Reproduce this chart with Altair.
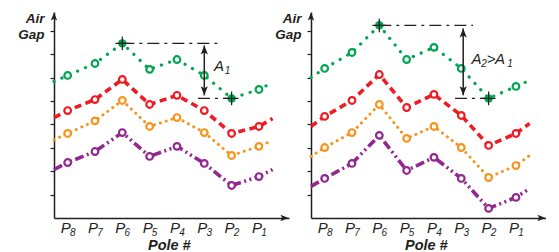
import altair as alt
import pandas as pd

# ---------------- data ----------------
pole_labels = ["8", "7", "6", "5", "4", "3", "2", "1"]
pole_pos = [1, 2, 3, 4, 5, 6, 7, 8]
line_start_pos = 0.5
line_end_pos = 8.5

# left panel  (values at P8..P1, plus [value at axis, value at line end])
green_L = [6.09, 6.60, 7.46, 6.35, 6.77, 6.09, 5.11, 5.49]
green_L_ends = [5.83, 5.79]
red_L = [4.59, 5.06, 5.92, 4.85, 5.24, 4.59, 3.61, 3.91]
red_L_ends = [4.29, 4.25]
orange_L = [3.61, 4.15, 5.02, 3.91, 4.29, 3.65, 2.67, 3.06]
orange_L_ends = [3.35, 3.31]
purple_L = [2.37, 2.84, 3.65, 2.63, 3.06, 2.33, 1.39, 1.77]
purple_L_ends = [2.07, 2.07]

# right panel
green_R = [6.39, 7.07, 8.23, 6.77, 7.29, 6.39, 5.11, 5.62]
green_R_ends = [6.00, 5.88]
red_R = [4.34, 5.02, 6.13, 4.72, 5.28, 4.38, 3.10, 3.61]
red_R_ends = [3.91, 4.04]
orange_R = [3.01, 3.65, 4.85, 3.40, 3.91, 3.01, 1.73, 2.24]
orange_R_ends = [2.63, 2.67]
purple_R = [1.69, 2.33, 3.53, 2.03, 2.59, 1.69, 0.41, 0.88]
purple_R_ends = [1.35, 1.26]

# annotations: [top level, top x from, top x to, low level, low x from, low x to, arrow x, arrow top tip, arrow bottom tip]
annot_L = [7.46, 3.0, 6.5, 5.11, 5.77, 7.0, 6.0, 7.37, 5.24]
annot_R = [8.23, 3.0, 6.43, 5.11, 5.77, 7.0, 6.07, 8.10, 5.24]

# amplitude labels: (text, pos, value, dx, dy, size)
label_L = [("A", 6.54, 6.30, 0, 0, 15), ("1", 6.54, 6.30, 8.5, 3, 10)]
label_R = [("A", 6.56, 6.59, 0, 0, 15), ("2", 6.56, 6.59, 7.5, 3, 10),
           (">", 6.56, 6.59, 14.5, 0, 15), ("A", 6.56, 6.59, 23.5, 0, 15),
           ("1", 6.56, 6.59, 33.5, 3, 10)]

# ---------------- styling ----------------
INK = "#231f20"
FONT = "Liberation Sans"
styles = {
    "green": dict(color="#00a651", dash=[0.1, 8.5], cap="round", width=3.2),
    "red": dict(color="#ed1c24", dash=[7, 4.5], cap="butt", width=3.6),
    "orange": dict(color="#f7941d", dash=[0.1, 6], cap="round", width=3.0),
    "purple": dict(color="#92278f", dash=[9, 3.5, 2, 3.5, 2, 3.5], cap="butt", width=3.6),
}

W, H = 235, 206
xscale = alt.Scale(domain=[0.5, 9.1], nice=False, zero=False)
yscale = alt.Scale(domain=[0, 8.8], nice=False, zero=False)
xaxis = alt.Axis(title=None, labels=False, ticks=False, grid=False,
                 domainColor=INK, domainWidth=1.5)
yaxis = alt.Axis(title=None, labels=False, values=[1, 2, 3, 4, 5, 6, 7, 8],
                 tickSize=4, tickColor=INK, tickWidth=1.2, grid=False,
                 domainColor=INK, domainWidth=1.5)
X = alt.X("pos:Q", scale=xscale, axis=xaxis)
Y = alt.Y("val:Q", scale=yscale, axis=yaxis)

ARROW_UP = "M0,0L0.4,1L0,0.78L-0.4,1Z"
ARROW_DOWN = "M0,0L0.4,-1L0,-0.78L-0.4,-1Z"
ARROW_RIGHT = "M0,0L-1,-0.4L-0.78,0L-1,0.4Z"
CROSS = "M-1,0L1,0M0,-1L0,1"


def panel(series, annot, amp_label, with_anchor):
    rows = []
    for name, (vals, ends) in series.items():
        rows.append(dict(series=name, pos=line_start_pos, val=ends[0], kind="end"))
        for p, v in zip(pole_pos, vals):
            rows.append(dict(series=name, pos=p, val=v, kind="pt"))
        rows.append(dict(series=name, pos=line_end_pos, val=ends[1], kind="end"))
    df = pd.DataFrame(rows)
    base = alt.Chart(df)

    layers = []
    for name, st in styles.items():
        layers.append(
            base.transform_filter(alt.datum.series == name)
            .mark_line(color=st["color"], strokeDash=st["dash"], strokeCap=st["cap"],
                       strokeWidth=st["width"])
            .encode(x=X, y=Y, order="pos:Q")
        )

    # dash-dot reference lines
    top_v, tx0, tx1, low_v, lx0, lx1, ax, ay0, ay1 = annot
    ref = pd.DataFrame({"pos": [tx0, lx0], "pos2": [tx1, lx1], "val": [top_v, low_v]})
    layers.append(
        alt.Chart(ref).mark_rule(color=INK, strokeWidth=1.2, strokeDash=[12, 5, 3, 5])
        .encode(x=X, x2="pos2:Q", y=Y)
    )

    # open circle markers
    gP6, gP2 = series["green"][0][2], series["green"][0][6]
    for name, st in styles.items():
        cond = (alt.datum.series == name) & (alt.datum.kind == "pt")
        if name == "green":
            cond = cond & (alt.datum.pos != 3) & (alt.datum.pos != 7)
        layers.append(
            base.transform_filter(cond)
            .mark_point(shape="circle", size=44, filled=False, fill="white",
                        stroke=st["color"], strokeWidth=2.2, opacity=1)
            .encode(x=X, y=Y)
        )

    # highlighted extremes
    ext = pd.DataFrame({"pos": [3, 7], "val": [gP6, gP2]})
    layers.append(
        alt.Chart(ext).mark_point(shape="circle", size=72, filled=True,
                                  color=styles["green"]["color"], opacity=1)
        .encode(x=X, y=Y)
    )
    layers.append(
        alt.Chart(ext).mark_point(shape=CROSS, size=190, filled=False, stroke=INK,
                                  strokeWidth=1.2, opacity=1)
        .encode(x=X, y=Y)
    )

    # double arrow
    arr = pd.DataFrame({"pos": [ax], "val": [ay0], "val2": [ay1]})
    layers.append(
        alt.Chart(arr).mark_rule(color=INK, strokeWidth=1.5)
        .encode(x=X, y=Y, y2="val2:Q")
    )
    heads = pd.DataFrame({"pos": [ax], "val": [ay0]})
    layers.append(
        alt.Chart(heads).mark_point(shape=ARROW_UP, size=324, filled=True, color=INK, opacity=1)
        .encode(x=X, y=Y)
    )
    heads2 = pd.DataFrame({"pos": [ax], "val": [ay1]})
    layers.append(
        alt.Chart(heads2).mark_point(shape=ARROW_DOWN, size=324, filled=True, color=INK, opacity=1)
        .encode(x=X, y=Y)
    )

    # axis arrow heads
    yarrow = pd.DataFrame({"pos": [0.5], "val": [8.78]})
    layers.append(
        alt.Chart(yarrow).mark_point(shape=ARROW_UP, size=256, filled=True, color=INK, opacity=1)
        .encode(x=X, y=Y)
    )
    xarrow = pd.DataFrame({"pos": [9.08], "val": [0]})
    layers.append(
        alt.Chart(xarrow).mark_point(shape=ARROW_RIGHT, size=256, filled=True, color=INK, opacity=1)
        .encode(x=X, y=Y)
    )

    # amplitude label pieces
    for txt, p, v, dx, dy, fs in amp_label:
        layers.append(
            alt.Chart(pd.DataFrame({"pos": [p], "val": [v], "t": [txt]}))
            .mark_text(align="center", baseline="alphabetic", dx=dx, dy=dy, font=FONT,
                       fontStyle="italic", fontSize=fs, color=INK)
            .encode(x=X, y=Y, text="t:N")
        )

    # tick labels P_n
    tl = pd.DataFrame({"pos": pole_pos, "lab": pole_labels, "P": ["P"] * 8})
    layers.append(
        alt.Chart(tl).mark_text(align="center", baseline="alphabetic", dx=-2, font=FONT,
                                fontStyle="italic", fontSize=15, color=INK)
        .encode(x=X, y=alt.value(221.2), text="P:N")
    )
    layers.append(
        alt.Chart(tl).mark_text(align="center", baseline="alphabetic", dx=5, font=FONT,
                                fontStyle="italic", fontSize=10, color=INK)
        .encode(x=X, y=alt.value(224.1), text="lab:N")
    )

    # axis titles
    layers.append(
        alt.Chart(pd.DataFrame({"pos": [4.72], "t": ["Pole #"]}))
        .mark_text(align="center", baseline="alphabetic", font=FONT, fontStyle="italic",
                   fontWeight="bold", fontSize=14.5, color=INK)
        .encode(x=X, y=alt.value(237.8), text="t:N")
    )
    yt = pd.DataFrame({"t": ["Air", "Gap"], "yy": [11.4, 26.9]})
    layers.append(
        alt.Chart(yt).mark_text(align="right", baseline="alphabetic", font=FONT,
                                fontStyle="italic", fontWeight="bold", fontSize=13.5, color=INK)
        .encode(x=alt.value(-9.5), y=alt.Y("yy:Q", scale=None), text="t:N")
    )

    if with_anchor:
        layers.append(
            alt.Chart(pd.DataFrame({"a": [0]}))
            .mark_point(shape="square", size=1, filled=True, color="white", opacity=1)
            .encode(x=alt.value(-45.5), y=alt.value(-3.1))
        )

    return alt.layer(*layers).properties(width=W, height=H)


left = panel({"green": (green_L, green_L_ends), "red": (red_L, red_L_ends),
              "orange": (orange_L, orange_L_ends), "purple": (purple_L, purple_L_ends)},
             annot_L, label_L, True)
right = panel({"green": (green_R, green_R_ends), "red": (red_R, red_R_ends),
               "orange": (orange_R, orange_R_ends), "purple": (purple_R, purple_R_ends)},
              annot_R, label_R, False)

chart = (
    alt.hconcat(left, right, spacing=22, bounds="flush")
    .properties(padding=0, background="white")
    .configure_view(strokeWidth=0)
)

chart.save("out.html", embed_options={"renderer": "svg", "actions": False})
